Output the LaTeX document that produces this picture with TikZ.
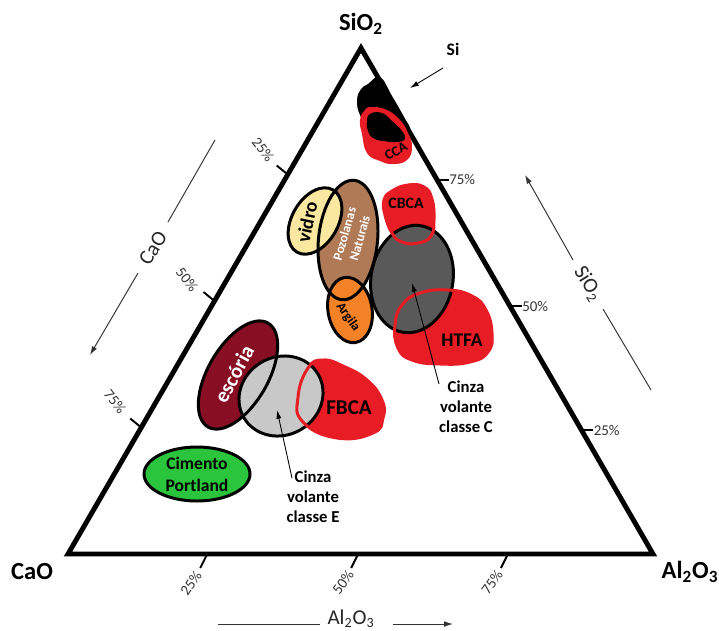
\documentclass[tikz,border=0pt]{standalone}
\usepackage{fontspec}
\setmainfont{Carlito}
\usetikzlibrary{arrows.meta,calc}
\definecolor{myred}{RGB}{232,28,36}
\definecolor{escoriac}{RGB}{135,14,35}
\definecolor{pozolc}{RGB}{176,122,86}
\definecolor{vidroc}{RGB}{250,232,160}
\definecolor{argilac}{RGB}{243,130,38}
\definecolor{dgrayc}{RGB}{89,89,89}
\definecolor{lgrayc}{RGB}{200,200,200}
\definecolor{greenc}{RGB}{43,196,61}
\begin{document}
\begin{tikzpicture}[x=0.02cm,y=-0.02cm,
  tri/.style={line width=2.8pt, line join=miter},
  bl/.style={line width=1.7pt, draw=black},
  rl/.style={line width=1.7pt, draw=myred},
  tickl/.style={line width=1.1pt},
  axl/.style={line width=0.55pt, draw=black!80},
  axarrow/.style={axl, -{Latex[length=5pt,width=3.2pt]}},
  pct/.style={font=\fontsize{8.5}{9}\selectfont, text=black!80, inner sep=0pt},
  axlbl/.style={font=\fontsize{12}{14}\selectfont, text=black!85, inner sep=0pt},
  corner/.style={font=\fontsize{14}{16}\selectfont\bfseries, inner sep=0pt},
  blab/.style={font=\bfseries, inner sep=0pt, align=center},
  ptr/.style={line width=0.5pt, -{Latex[length=5pt,width=3pt]}}
]
\useasboundingbox (0,0) rectangle (719,630);

% triangle
\coordinate (C) at (361,48);
\coordinate (A) at (68,554);
\coordinate (B) at (653,554);
\draw[tri] (A) -- (B) -- (C) -- cycle;

% ticks left (CaO)
\foreach \t/\n in {0.25/l1,0.5/l2,0.75/l3}{
  \coordinate (\n) at ($(C)!\t!(A)$);
  \draw[tickl] (\n) -- ++(-11,-9);
}
\node[pct, rotate=-52] (pl1) at (263,150) {25\%};
\node[pct, rotate=-52] (pl2) at (187,280) {50\%};
\node[pct, rotate=-52] (pl3) at (115,402) {75\%};

% ticks right (SiO2)
\foreach \t/\n/\lab in {0.26/r1/75,0.51/r2/50,0.755/r3/25}{
  \coordinate (\n) at ($(C)!\t!(B)$);
  \draw[tickl] (\n) -- ++(12,0) coordinate (\n e);
  \node[pct, anchor=west] (p\n) at (\n e) {\lab\%};
}

% ticks bottom (Al2O3)
\foreach \t/\n in {0.238/b1,0.496/b2,0.752/b3}{
  \coordinate (\n) at ($(A)!\t!(B)$);
  \draw[tickl] (\n) -- ++(-7,14);
}
\node[pct, rotate=55] (pb1) at (191,583) {25\%};
\node[pct, rotate=55] (pb2) at (343,582) {50\%};
\node[pct, rotate=55] (pb3) at (492,582) {75\%};

% corner labels
\node[corner] (vSi) at (361,24) {SiO\textsubscript{2}};
\node[corner] (vCa) at (32,572) {CaO};
\node[corner] (vAl) at (690,572) {Al\textsubscript{2}O\textsubscript{3}};

% axis arrows
\coordinate (ca1) at (215,140); \coordinate (ca2) at (168,222);
\coordinate (ca3) at (138,273); \coordinate (ca4) at (90,355);
\draw[axl] (ca1) -- (ca2);
\draw[axarrow] (ca3) -- (ca4);
\node[axlbl, rotate=58] (axCa) at (153,248) {CaO};

\coordinate (si1) at (573,260); \coordinate (si2) at (525,175);
\coordinate (si3) at (603,309); \coordinate (si4) at (651,390);
\draw[axarrow] (si1) -- (si2);
\draw[axl] (si3) -- (si4);
\node[axlbl, rotate=-58] (axSi) at (588,284) {SiO\textsubscript{2}};

\coordinate (al1) at (218,624); \coordinate (al2) at (320,624);
\coordinate (al3) at (393,624); \coordinate (al4) at (453,624);
\draw[axl] (al1) -- (al2);
\draw[axarrow] (al3) -- (al4);
\node[axlbl] (axAl) at (351,619) {Al\textsubscript{2}O\textsubscript{3}};

% shapes
\def\shCBCA{plot[smooth cycle,tension=0.8] coordinates {(392,191) (408,185) (424,187) (432,199) (434,220) (431,236) (418,243) (402,242) (392,233) (385,215) (384,200)}}
\def\shHTFA{plot[smooth cycle,tension=0.8] coordinates {(402,305) (420,293) (448,290) (472,296) (486,310) (492,333) (488,352) (470,362) (440,364) (412,360) (398,348) (395,325)}}
\def\shFBCA{plot[smooth cycle,tension=0.8] coordinates {(308,368) (323,360) (343,366) (367,380) (382,400) (383,418) (373,433) (337,438) (303,422) (298,397)}}
\def\shPoz{(348,240) ellipse [x radius=60, y radius=29.5, rotate=84]}
\def\shVid{(315,221) ellipse [x radius=36, y radius=23, rotate=60]}
\def\shArg{(350,310) ellipse [x radius=33, y radius=22, rotate=100]}
\def\shDg{(412,279) ellipse [x radius=54, y radius=41, rotate=80]}
\def\shEsc{(238,375) ellipse [x radius=60, y radius=30, rotate=60]}
\def\shLg{(281,396) ellipse [x radius=43, y radius=39, rotate=30]}
\def\shCim{(197,474) ellipse [x radius=53, y radius=27]}

% CCA
\fill[black] plot[smooth cycle,tension=0.7] coordinates {(368,84) (380,77) (392,96) (404,117) (410,130) (400,136) (370,126) (360,115) (357,100) (361,89)};
\fill[myred] plot[smooth cycle,tension=0.8] coordinates {(365,110) (372,107) (387,110) (400,120) (408,133) (412,147) (407,160) (393,164) (380,161) (367,153) (362,134) (360,120)};
\fill[black] plot[smooth cycle,tension=0.8] coordinates {(370,114) (382,113) (393,122) (402,131) (405,139) (397,142) (383,141) (373,138) (368,131) (367,122)};

% fills
\fill[myred] \shCBCA;
\fill[myred] \shHTFA;
\fill[myred] \shFBCA;
\fill[pozolc] \shPoz;
\fill[vidroc] \shVid;
\fill[argilac] \shArg;
\fill[dgrayc] \shDg;
\fill[escoriac] \shEsc;
\fill[lgrayc] \shLg;
\fill[greenc] \shCim;

% black borders
\draw[bl] \shPoz;
\draw[bl] \shVid;
\draw[bl] \shArg;
\draw[bl] \shDg;
\draw[bl] \shEsc;
\draw[bl] \shLg;
\draw[bl] \shCim;

% red borders
\draw[rl] \shCBCA;
\draw[rl] \shHTFA;
\draw[rl] \shFBCA;

% labels on shapes
\node[blab, font=\fontsize{8}{9}\selectfont\bfseries, rotate=28] (tCCA) at (396,151) {CCA};
\node[blab, font=\fontsize{9}{10}\selectfont\bfseries] (tCBCA) at (406,203) {CBCA};
\node[blab, font=\fontsize{11}{12}\selectfont\bfseries] (tHTFA) at (462,340) {HTFA};
\node[blab, font=\fontsize{12}{13}\selectfont\bfseries] (tFBCA) at (349,408) {FBCA};
\node[blab, font=\fontsize{11}{12}\selectfont\bfseries, rotate=78] (tVid) at (307,222) {vidro};
\node[blab, font=\fontsize{7.5}{9}\selectfont\bfseries, text=white, rotate=74] (tPoz) at (352,236) {Pozolanas\\Naturais};
\node[blab, font=\fontsize{7.5}{8}\selectfont\bfseries, rotate=-55] (tArg) at (348,317) {Argila};
\node[blab, font=\fontsize{12}{13}\selectfont\bfseries, text=white, rotate=62] (tEsc) at (234,374) {escória};
\node[blab, font=\fontsize{10}{12.5}\selectfont\bfseries] (tCim) at (197,474) {Cimento\\Portland};

% Si
\node[blab, font=\fontsize{10}{12}\selectfont\bfseries] (tSi) at (453,49) {Si};
\coordinate (siS) at (443,68); \coordinate (siT) at (410,88);
\draw[ptr] (siS) -- (siT);

% Cinza volante labels
\node[blab, font=\fontsize{9.5}{11.3}\selectfont\bfseries] (tCVC) at (466,407) {Cinza\\volante\\classe C};
\coordinate (cvcS) at (439,384); \coordinate (cvcT) at (412,283);
\draw[ptr] (cvcS) -- (cvcT);
\node[blab, font=\fontsize{9.5}{11.3}\selectfont\bfseries] (tCVE) at (313,497) {Cinza\\volante\\classe E};
\coordinate (cveS) at (292,478); \coordinate (cveT) at (277,410);
\draw[ptr] (cveS) -- (cveT);
\end{tikzpicture}
\end{document}
